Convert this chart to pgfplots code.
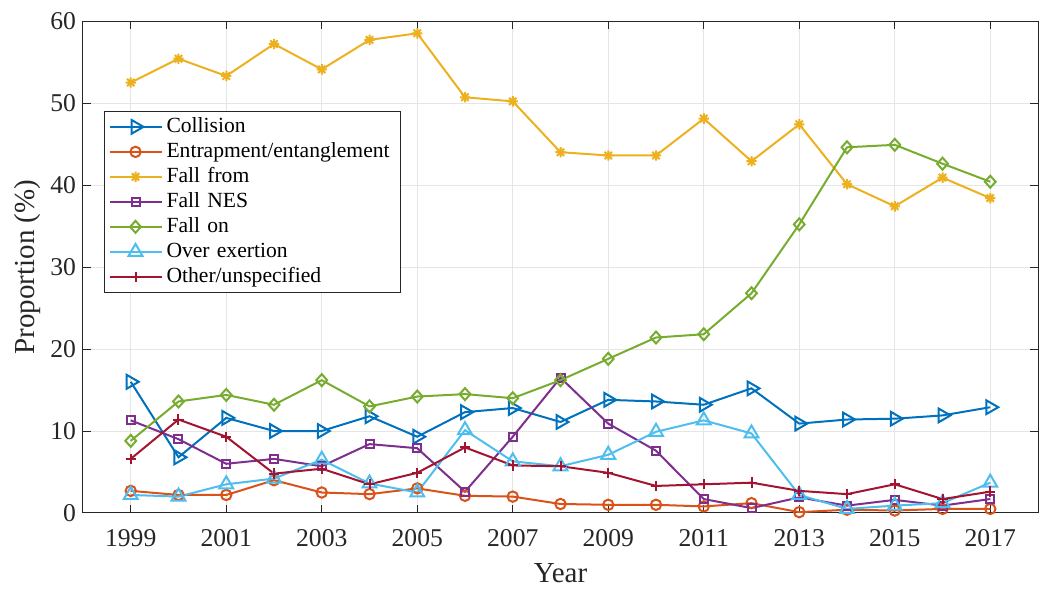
\documentclass[border=0pt]{standalone}
\usepackage{fontspec}
\setmainfont{Liberation Serif}
\usepackage{pgfplots}
\pgfplotsset{compat=1.18}

% MATLAB default line colours
\definecolor{c1}{rgb}{0,0.447,0.741}
\definecolor{c2}{rgb}{0.85,0.325,0.098}
\definecolor{c3}{rgb}{0.929,0.694,0.125}
\definecolor{c4}{rgb}{0.494,0.184,0.556}
\definecolor{c5}{rgb}{0.466,0.674,0.188}
\definecolor{c6}{rgb}{0.301,0.745,0.933}
\definecolor{c7}{rgb}{0.635,0.078,0.184}
\definecolor{axgray}{gray}{0.15}

% eight-armed asterisk
\pgfdeclareplotmark{ast8}{%
  \pgfpathmoveto{\pgfqpoint{-\pgfplotmarksize}{0pt}}%
  \pgfpathlineto{\pgfqpoint{\pgfplotmarksize}{0pt}}%
  \pgfpathmoveto{\pgfqpoint{0pt}{-\pgfplotmarksize}}%
  \pgfpathlineto{\pgfqpoint{0pt}{\pgfplotmarksize}}%
  \pgfpathmoveto{\pgfqpoint{-.707\pgfplotmarksize}{-.707\pgfplotmarksize}}%
  \pgfpathlineto{\pgfqpoint{.707\pgfplotmarksize}{.707\pgfplotmarksize}}%
  \pgfpathmoveto{\pgfqpoint{-.707\pgfplotmarksize}{.707\pgfplotmarksize}}%
  \pgfpathlineto{\pgfqpoint{.707\pgfplotmarksize}{-.707\pgfplotmarksize}}%
  \pgfusepathqstroke}

\begin{document}
\begin{tikzpicture}
\begin{axis}[
  at={(0,0)}, anchor=south west,
  scale only axis,
  width=477.5pt, height=246pt,
  xmin=1998, xmax=2018,
  ymin=0, ymax=60,
  xtick={1999,2001,...,2017},
  ytick={0,10,...,60},
  /pgf/number format/1000 sep={},
  /pgf/number format/assume math mode=true,
  ticklabel style={font=\fontsize{12.8}{15}\selectfont, color=axgray},
  xticklabel style={yshift=-4.5pt},
  tick align=inside,
  major tick length=4pt,
  tick style={axgray, line width=0.5pt},
  axis line style={axgray, line width=0.5pt},
  grid=major,
  grid style={gray!20, line width=0.5pt},
  xlabel={Year},
  ylabel={Proportion (\%)},
  label style={font=\fontsize{14.5}{17}\selectfont, color=axgray},
  xlabel style={at={(axis description cs:0.5,-0.1217)}, anchor=center},
  ylabel style={at={(axis description cs:-0.0576,0.5)}, anchor=center},
  every axis plot/.append style={line width=1pt, mark options={solid, line width=1pt}},
  legend cell align=left,
  legend style={
    at={(0.022,0.8174)}, anchor=north west,
    font=\fontsize{10.8}{13}\selectfont,
    draw=axgray, line width=0.5pt,
    inner xsep=2pt, inner ysep=1.5pt,
    nodes={inner ysep=1pt, inner xsep=2pt, text height=8pt, text depth=2.5pt},
    text width=113pt,
  },
  legend image code/.code={%
    \draw[mark repeat=2, mark phase=2] plot coordinates {(0pt,0pt) (13pt,0pt) (26pt,0pt)};},
]
\addplot[c1, mark=triangle, mark size=4pt, mark options={rotate=-90}] coordinates {
(1999,16.0) (2000,6.8) (2001,11.6) (2002,10.0) (2003,10.0) (2004,11.8) (2005,9.3)
(2006,12.3) (2007,12.8) (2008,11.1) (2009,13.8) (2010,13.6) (2011,13.2) (2012,15.2)
(2013,10.9) (2014,11.4) (2015,11.5) (2016,11.9) (2017,12.9)};
\addlegendentry{Collision}
\addplot[c2, mark=o, mark size=2.6pt] coordinates {
(1999,2.7) (2000,2.2) (2001,2.2) (2002,4.0) (2003,2.5) (2004,2.3) (2005,3.0)
(2006,2.1) (2007,2.0) (2008,1.1) (2009,1.0) (2010,1.0) (2011,0.8) (2012,1.2)
(2013,0.1) (2014,0.4) (2015,0.3) (2016,0.5) (2017,0.5)};
\addlegendentry{Entrapment/entanglement}
\addplot[c3, mark=ast8, mark size=2.6pt] coordinates {
(1999,52.5) (2000,55.4) (2001,53.3) (2002,57.2) (2003,54.1) (2004,57.7) (2005,58.5)
(2006,50.7) (2007,50.2) (2008,44.0) (2009,43.6) (2010,43.6) (2011,48.1) (2012,42.9)
(2013,47.4) (2014,40.1) (2015,37.4) (2016,40.9) (2017,38.4)};
\addlegendentry{Fall from}
\addplot[c4, mark=square, mark size=2pt] coordinates {
(1999,11.3) (2000,9.0) (2001,6.0) (2002,6.6) (2003,5.7) (2004,8.4) (2005,7.9)
(2006,2.6) (2007,9.3) (2008,16.5) (2009,10.9) (2010,7.6) (2011,1.7) (2012,0.6)
(2013,1.9) (2014,0.9) (2015,1.6) (2016,0.9) (2017,1.7)};
\addlegendentry{Fall NES}
\addplot[c5, mark=diamond, mark size=3pt, mark options={xscale=1.2}] coordinates {
(1999,8.8) (2000,13.6) (2001,14.4) (2002,13.2) (2003,16.2) (2004,13.0) (2005,14.2)
(2006,14.5) (2007,14.0) (2008,16.2) (2009,18.8) (2010,21.4) (2011,21.8) (2012,26.8)
(2013,35.2) (2014,44.6) (2015,44.9) (2016,42.6) (2017,40.4)};
\addlegendentry{Fall on}
\addplot[c6, mark=triangle, mark size=4pt] coordinates {
(1999,2.2) (2000,2.0) (2001,3.5) (2002,4.2) (2003,6.5) (2004,3.6) (2005,2.5)
(2006,10.1) (2007,6.3) (2008,5.7) (2009,7.1) (2010,9.9) (2011,11.3) (2012,9.7)
(2013,2.2) (2014,0.5) (2015,0.9) (2016,1.2) (2017,3.7)};
\addlegendentry{Over exertion}
\addplot[c7, mark=+, mark size=2.6pt] coordinates {
(1999,6.6) (2000,11.4) (2001,9.3) (2002,4.8) (2003,5.4) (2004,3.5) (2005,4.9)
(2006,8.0) (2007,5.8) (2008,5.7) (2009,4.9) (2010,3.3) (2011,3.5) (2012,3.7)
(2013,2.7) (2014,2.3) (2015,3.5) (2016,1.7) (2017,2.6)};
\addlegendentry{Other/unspecified}
\end{axis}
\path (-41.5pt,-36.5pt) rectangle (481.5pt,256.5pt);
\end{tikzpicture}
\end{document}
